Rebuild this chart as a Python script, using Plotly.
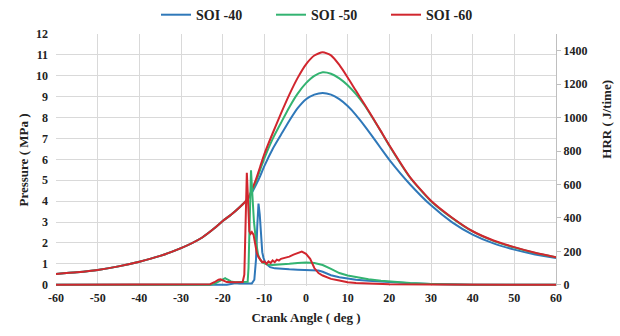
import plotly.graph_objects as go

# ---------------- data ----------------
series_names = ["SOI -40", "SOI -50", "SOI -60"]
colors = ["#2f78b9", "#33b371", "#d1262e"]

# Pressure (MPa) vs crank angle
deg_p = [-60, -55, -50, -45, -40, -35, -30, -25, -22, -20, -18, -16, -14, -13, -12, -11, -10,
         -8, -6, -4, -2, 0, 2, 4, 6, 8, 10, 12, 14, 16, 18, 20, 25, 30, 35, 40, 45, 50, 55, 60]
p_soi40 = [0.52, 0.6, 0.71, 0.88, 1.1, 1.38, 1.75, 2.25, 2.7, 3.05, 3.35, 3.7, 4.1, 4.4, 4.78, 5.2, 5.68,
           6.5, 7.18, 7.85, 8.45, 8.88, 9.1, 9.18, 9.1, 8.88, 8.55, 8.12, 7.62, 7.08, 6.52, 5.98, 4.8, 3.8, 3.0, 2.4, 1.98, 1.68, 1.45, 1.28]
p_soi50 = [0.52, 0.6, 0.71, 0.88, 1.1, 1.38, 1.75, 2.25, 2.7, 3.05, 3.35, 3.7, 4.1, 4.45, 4.95, 5.5, 6.05,
           6.98, 7.75, 8.5, 9.15, 9.65, 10.0, 10.17, 10.1, 9.88, 9.55, 9.12, 8.6, 7.98, 7.33, 6.65, 5.12, 4.0, 3.2, 2.55, 2.1, 1.78, 1.52, 1.31]
p_soi60 = [0.52, 0.6, 0.71, 0.88, 1.1, 1.38, 1.75, 2.25, 2.7, 3.05, 3.35, 3.7, 4.1, 4.55, 5.05, 5.65, 6.25,
           7.25, 8.2, 9.1, 9.9, 10.55, 10.97, 11.13, 10.98, 10.52, 9.92, 9.28, 8.65, 8.0, 7.34, 6.68, 5.14, 4.02, 3.22, 2.56, 2.12, 1.8, 1.53, 1.32]

# Heat release rate (J/time) vs crank angle
deg_h40 = [-60, -19, -18, -17, -16, -14, -13, -12.4, -12, -11.7, -11.4, -11.1, -10.8, -10.5, -10.2, -9.8,
           -9.2, -8.6, -7.5, -6, -4, -2, 0, 2, 3, 4, 5, 6, 8, 10, 12, 15, 18, 20, 25, 30, 35, 40, 60]
h_soi40 = [0, 0, 5, 10, 8, 5, 8, 30, 150, 350, 486, 420, 300, 195, 160, 135,
           118, 105, 98, 94, 92, 90, 89, 87, 85, 78, 65, 57, 45, 36, 30, 24, 19, 16, 9, 5, 2, 0, 0]

deg_h50 = [-60, -23, -22, -21, -20, -19.4, -19, -18, -17, -15, -14, -13.8, -13.5, -13.2, -12.9, -12.5, -12,
           -11.5, -11, -10.5, -10, -9, -8, -6, -4, -2, 0, 2, 3, 4, 6, 8, 10, 12, 15, 18, 20, 25, 30, 35, 40, 60]
h_soi50 = [0, 0, 5, 20, 35, 40, 33, 20, 15, 15, 18, 100, 400, 685, 550, 380, 260,
           180, 150, 135, 128, 120, 118, 120, 125, 130, 133, 130, 126, 118, 95, 70, 55, 45, 33, 24, 19, 10, 5, 2, 0, 0]

deg_h60 = [-60, -24, -23, -22, -21, -20.5, -20, -19, -17, -15.2, -14.8, -14.5, -14.2, -13.9, -13.6, -13.3,
           -13, -12.6, -12.2, -11.8, -11.4, -11, -10.5, -10, -9.5, -9, -8.5, -8, -7.5, -7, -6.5, -6,
           -5, -4, -3, -2, -1, 0, 1, 2, 3, 4, 5, 6, 8, 10, 12, 15, 20, 30, 40, 60]
h_soi60 = [0, 0, 3, 15, 30, 32, 25, 16, 15, 16, 60, 350, 670, 500, 320, 305,
           315, 300, 235, 190, 165, 150, 135, 140, 125, 140, 130, 145, 135, 150, 145, 155,
           160, 168, 180, 190, 198, 185, 155, 100, 70, 55, 45, 35, 25, 15, 10, 6, 3, 1, 0, 0]

pressures = [p_soi40, p_soi50, p_soi60]
hrr_x = [deg_h40, deg_h50, deg_h60]
hrr_y = [h_soi40, h_soi50, h_soi60]

x_ticks = list(range(-60, 61, 10))
p_ticks = list(range(0, 13))
h_ticks = list(range(0, 1401, 200))

# ---------------- figure ----------------
fig = go.Figure()
for i, name in enumerate(series_names):
    fig.add_trace(go.Scatter(
        x=deg_p, y=pressures[i], name=f"<b>{name}</b>", legendgroup=name, mode="lines",
        line=dict(color=colors[i], width=2, shape="spline", smoothing=0.6),
        yaxis="y"))
for i, name in enumerate(series_names):
    fig.add_trace(go.Scatter(
        x=hrr_x[i], y=hrr_y[i], name=name, legendgroup=name, showlegend=False, mode="lines",
        line=dict(color=colors[i], width=2),
        yaxis="y2"))

tick_font = dict(family="Liberation Serif", size=12, color="#222222")
title_font = dict(family="Liberation Serif", size=13, color="#222222")

fig.update_layout(
    width=620, height=336,
    margin=dict(l=56, r=64, t=34, b=50, autoexpand=False),
    paper_bgcolor="white", plot_bgcolor="white",
    font=dict(family="Liberation Serif", color="#222222"),
    showlegend=True,
    legend=dict(orientation="h", x=0.2, xanchor="left", y=1.075, yanchor="middle",
                font=dict(family="Liberation Serif", size=14, color="#222222"),
                entrywidth=70, entrywidthmode="pixels", bgcolor="rgba(0,0,0,0)"),
    xaxis=dict(range=[-60, 60], tickvals=x_ticks, ticktext=[f"<b>{t}</b>" for t in x_ticks],
               tickfont=tick_font, showgrid=True, gridcolor="#d9d9d9", gridwidth=1,
               zeroline=False, showline=False, ticks="", automargin=False, ticklabelstandoff=3,
               title=dict(text="<b>Crank Angle ( deg )</b>", font=title_font, standoff=8)),
    yaxis=dict(range=[-0.06, 12], tickvals=p_ticks, ticktext=[f"<b>{t}</b>" for t in p_ticks],
               tickfont=tick_font, showgrid=True, gridcolor="#d9d9d9", gridwidth=1,
               zeroline=False, showline=False, ticks="", automargin=False, ticklabelstandoff=7,
               title=dict(text="<b>Pressure ( MPa )</b>", font=title_font, standoff=4)),
    yaxis2=dict(range=[-7.5, 1500], overlaying="y", side="right",
                tickvals=h_ticks, ticktext=[f"<b>{t}</b>" for t in h_ticks],
                tickfont=tick_font, showgrid=False, zeroline=False, automargin=False,
                showline=True, linecolor="#bfbfbf", linewidth=1,
                ticks="outside", ticklen=4, tickcolor="#bfbfbf"),
    annotations=[dict(text="<b>HRR ( J/time)</b>", xref="paper", yref="paper",
                      x=1.0, xshift=51, xanchor="center", y=0.66, yanchor="middle",
                      textangle=-90, showarrow=False, font=title_font)],
)

fig.write_html("out.html", config={"displayModeBar": False},
               post_script="document.body.style.margin='0';document.body.style.overflow='hidden';")
